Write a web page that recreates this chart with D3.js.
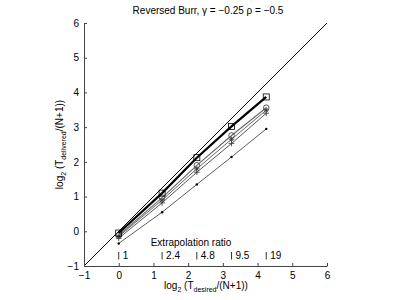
<!DOCTYPE html>
<html><head><meta charset="utf-8">
<script src="https://cdn.jsdelivr.net/npm/d3@7"></script>
<style>body{margin:0;background:#fff}svg{display:block}text{font-family:"Liberation Sans",Arial,sans-serif;fill:#000}</style>
</head><body><div id="c"></div>
<script>
const xVals = [0, 1.25, 2.25, 3.25, 4.25];
const ratioLabels = ["1", "2.4", "4.8", "9.5", "19"];
const squareSeries = [-0.05, 1.1, 2.12, 3.02, 3.87];
const circleSeries = [-0.12, 0.97, 1.9, 2.76, 3.56];
const starSeries = [-0.15, 0.9, 1.8, 2.65, 3.49];
const plusSeries = [-0.2, 0.82, 1.7, 2.53, 3.4];
const dotSeries = [-0.35, 0.55, 1.35, 2.14, 2.95];
const axisTicks = [-1, 0, 1, 2, 3, 4, 5, 6];

const W = 398, H = 300;
const svg = d3.select("#c").append("svg").attr("width", W).attr("height", H);
const x = d3.scaleLinear().domain([-1, 6]).range([84, 327]);
const y = d3.scaleLinear().domain([-1, 6]).range([266, 23]);

// diagonal
svg.append("line").attr("x1", x(-1)).attr("y1", y(-1)).attr("x2", x(6)).attr("y2", y(6))
  .attr("stroke", "#000").attr("stroke-width", 1);

const series = [
  {v: dotSeries, color: "#333", w: 0.8, m: "dot"},
  {v: plusSeries, color: "#444", w: 0.9, m: "plus"},
  {v: starSeries, color: "#555", w: 0.9, m: "star"},
  {v: circleSeries, color: "#666", w: 1.1, m: "circle"},
  {v: squareSeries, color: "#000", w: 2.2, m: "square"}
];
const line = d3.line().x((d, i) => x(xVals[i])).y(d => y(d));
series.forEach(s => {
  svg.append("path").datum(s.v).attr("d", line).attr("fill", "none")
    .attr("stroke", s.color).attr("stroke-width", s.w);
  const g = svg.append("g");
  s.v.forEach((d, i) => {
    const cx = x(xVals[i]), cy = y(d);
    if (s.m === "square") {
      g.append("rect").attr("x", cx - 3).attr("y", cy - 3).attr("width", 6).attr("height", 6)
        .attr("fill", "none").attr("stroke", "#000").attr("stroke-width", 0.8);
    } else if (s.m === "circle") {
      g.append("circle").attr("cx", cx).attr("cy", cy).attr("r", 2.8)
        .attr("fill", "none").attr("stroke", "#444").attr("stroke-width", 0.9);
    } else if (s.m === "star") {
      const r = 2.8;
      g.append("path").attr("d", `M${cx-r},${cy}H${cx+r}M${cx},${cy-r}V${cy+r}M${cx-r*0.7},${cy-r*0.7}L${cx+r*0.7},${cy+r*0.7}M${cx-r*0.7},${cy+r*0.7}L${cx+r*0.7},${cy-r*0.7}`)
        .attr("stroke", "#333").attr("stroke-width", 0.8);
    } else if (s.m === "plus") {
      const r = 2.8;
      g.append("path").attr("d", `M${cx-r},${cy}H${cx+r}M${cx},${cy-r}V${cy+r}`)
        .attr("stroke", "#333").attr("stroke-width", 0.8);
    } else {
      g.append("circle").attr("cx", cx).attr("cy", cy).attr("r", 1.2).attr("fill", "#000");
    }
  });
});

// axes
const xAxis = d3.axisBottom(x).tickValues(axisTicks).tickSizeInner(-3).tickSizeOuter(0).tickPadding(6)
  .tickFormat(d => d < 0 ? "\u2212" + Math.abs(d) : d);
const gx = svg.append("g").attr("transform", `translate(0,${y(-1)})`).call(xAxis);
const yAxis = d3.axisLeft(y).tickValues(axisTicks).tickSizeInner(-3).tickSizeOuter(0).tickPadding(5)
  .tickFormat(d => d < 0 ? "\u2212" + Math.abs(d) : d);
const gy = svg.append("g").attr("transform", `translate(${x(-1)},0)`).call(yAxis);
[gx, gy].forEach(g => {
  g.selectAll("path").attr("stroke", "#444");
  g.selectAll("line").attr("stroke", "#444");
  g.selectAll("text").attr("font-size", 10).attr("font-family", "Liberation Sans, Arial, sans-serif");
});

// extrapolation ratio axis
const ex = svg.append("g");
xVals.forEach((v, i) => {
  ex.append("line").attr("x1", x(v)).attr("x2", x(v)).attr("y1", 252).attr("y2", 259.5)
    .attr("stroke", "#333").attr("stroke-width", 1);
  ex.append("text").attr("x", x(v) + 4).attr("y", 258.5).attr("font-size", 10).text(ratioLabels[i]);
});
svg.append("text").attr("x", 191).attr("y", 245.5).attr("text-anchor", "middle").attr("font-size", 10)
  .text("Extrapolation ratio");

// title
svg.append("text").attr("x", 208).attr("y", 14).attr("text-anchor", "middle").attr("font-size", 10)
  .text("Reversed Burr, \u03b3 = \u22120.25 \u03c1 = \u22120.5");

// x label
const xl = svg.append("text").attr("x", 206).attr("y", 289).attr("text-anchor", "middle").attr("font-size", 10);
xl.append("tspan").text("log");
xl.append("tspan").attr("font-size", 7).attr("dy", 3).text("2");
xl.append("tspan").attr("dy", -3).text(" (T");
xl.append("tspan").attr("font-size", 7).attr("dy", 3).text("desired");
xl.append("tspan").attr("dy", -3).text("/(N+1))");

// y label
const yl = svg.append("text").attr("transform", `translate(63,${y(2.5)}) rotate(-90)`)
  .attr("text-anchor", "middle").attr("font-size", 10);
yl.append("tspan").text("log");
yl.append("tspan").attr("font-size", 7).attr("dy", 3).text("2");
yl.append("tspan").attr("dy", -3).text(" (T");
yl.append("tspan").attr("font-size", 7).attr("dy", 3).text("delivered");
yl.append("tspan").attr("dy", -3).text("/(N+1))");
</script></body></html>
